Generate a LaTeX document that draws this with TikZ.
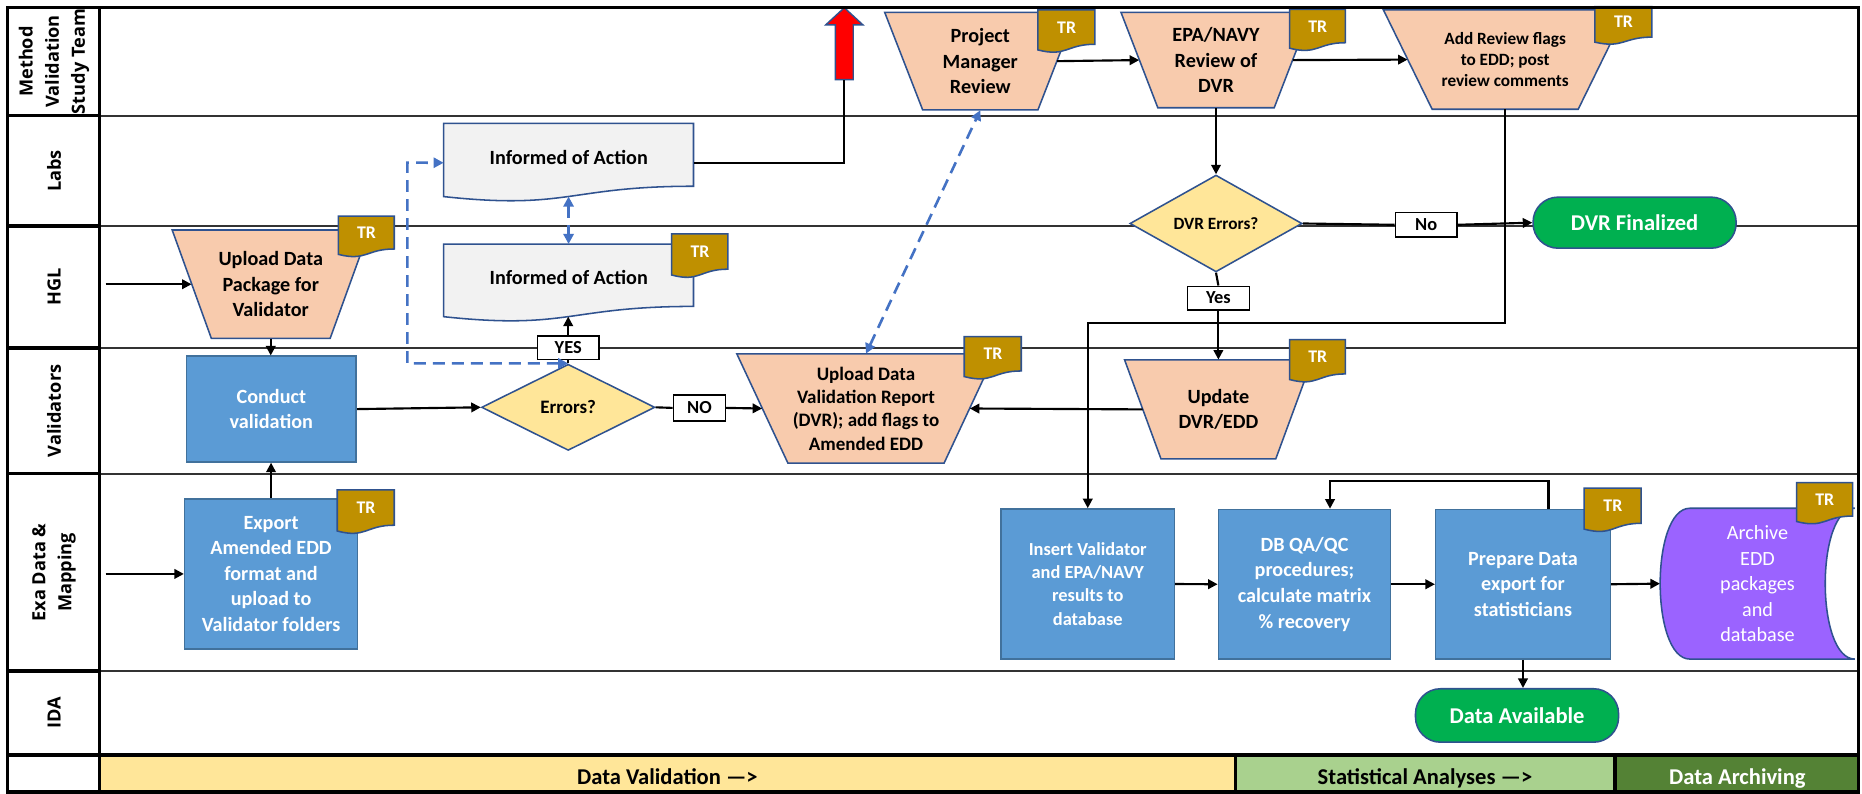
\documentclass[tikz,border=0pt]{standalone}
\usepackage{fontspec}
\setmainfont{Carlito}
\newfontfamily\lanefont{Open Sans}
\usetikzlibrary{arrows.meta,shapes.geometric}
\definecolor{peach}{HTML}{F8CBAD}
\definecolor{boxblue}{HTML}{5B9BD5}
\definecolor{boxline}{HTML}{41719C}
\definecolor{shapeline}{HTML}{2F528F}
\definecolor{diayellow}{HTML}{FFE699}
\definecolor{docgray}{HTML}{F2F2F2}
\definecolor{tagGold}{HTML}{BF9000}
\definecolor{termgreen}{HTML}{00B050}
\definecolor{purp}{HTML}{9B63FF}
\definecolor{bandY}{HTML}{FFE699}
\definecolor{bandLG}{HTML}{A9D18E}
\definecolor{bandDG}{HTML}{548235}
\definecolor{dashblue}{HTML}{4472C4}
\definecolor{arrred}{HTML}{FF0000}

% trapezoid: name, cx, cy, H, top half width, bottom half width, fill, node options, text
\newcommand\mktrap[9]{%
  \path[shapeborder, fill=#7] ({#2-#5},{#3-#4/2}) -- ({#2+#5},{#3-#4/2}) -- ({#2+#6},{#3+#4/2}) -- ({#2-#6},{#3+#4/2}) -- cycle;
  \node[name=#1, minimum width={#5+#6}, minimum height={#4}, inner sep=0pt, align=center, #8] at (#2,#3) {#9};}
% document shape: name, x1, y1, x2, H, fill, node options, text
\newcommand\mkdoc[8]{%
  \path[shapeborder, fill=#6] (#2,#3) -- (#4,#3) -- (#4,{#3+0.802*#5}) .. controls ({(#2+#4)/2},{#3+0.802*#5}) and ({(#2+#4)/2},{#3+1.107*#5}) .. (#2,{#3+0.934*#5}) -- cycle;
  \node[name=#1, minimum width={#4-#2}, minimum height={#5}, inner sep=0pt, anchor=north west, #7] at (#2,#3) {#8};}

\tikzset{
  shapeborder/.style={draw=shapeline, line width=1.3pt, line join=miter},
  conn/.style={draw=black, line width=1.8pt, -{Triangle[length=8pt,width=8pt]}},
  plain/.style={draw=black, line width=1.8pt},
  dasharr/.style={draw=dashblue, line width=2.2pt, dash pattern=on 10pt off 6pt, {Triangle[length=8.5pt,width=8.5pt]}-{Triangle[length=8.5pt,width=8.5pt]}},
  bluebox/.style={rectangle, fill=boxblue, draw=boxline, line width=1.3pt, text=white, align=center, inner sep=0pt, font=\bfseries\fontsize{17}{21.5}\selectfont},
  dia/.style={diamond, fill=diayellow, draw=shapeline, line width=1.3pt, inner sep=0pt, font=\bfseries\fontsize{16}{19}\selectfont},
  term/.style={rectangle, rounded corners=21pt, fill=termgreen, draw=shapeline, line width=1.3pt, text=white, inner sep=0pt, font=\bfseries\fontsize{19}{23}\selectfont},
  lab/.style={rectangle, fill=white, draw=black, line width=1.1pt, inner sep=0pt, font=\bfseries\fontsize{15.5}{18}\selectfont},
  lanelab/.style={rotate=90, align=center, inner sep=0pt, font=\lanefont\bfseries\fontsize{15.3}{22}\selectfont},
  bandtxt/.style={anchor=base, inner sep=0pt, font=\bfseries\fontsize{19}{23}\selectfont},
  frame/.style={draw=black, line width=2.8pt},
  laneline/.style={draw=black!80, line width=1.6pt},
  trtxt/.style={text=white, font=\bfseries\fontsize{15}{18}\selectfont},
  trapfont/.style={font=\bfseries\fontsize{17}{21.3}\selectfont},
}

\begin{document}
\begin{tikzpicture}[x=1pt,y=-1pt]
\useasboundingbox (0,0) rectangle (1568,668.6);
\fill[white] (0,0) rectangle (1568,668.6);

% ---------- bottom band ----------
\fill[bandY] (84,635.8) rectangle (1040.4,667);
\fill[bandLG] (1040.4,635.8) rectangle (1360,667);
\fill[bandDG] (1360,635.8) rectangle (1565,667);
\node[bandtxt] (bt1) at (562,661) {Data Validation —>};
\node[bandtxt] (bt2) at (1200,661) {Statistical Analyses —>};
\node[bandtxt, text=white] (bt3) at (1463,661) {Data Archiving};

% ---------- lanes ----------
\foreach \yy in {97.4,190.3,293,398.9,565} {
  \draw[laneline] (84,\yy) -- (1565,\yy);
  \draw[frame] (6.2,\yy) -- (84,\yy);
}
\draw[frame] (6.2,635.8) -- (1565,635.8);
\draw[frame] (84,6.2) -- (84,667);
\draw[frame] (1040.4,635.8) -- (1040.4,667);
\draw[frame] (1360,635.8) -- (1360,667);

\node[lanelab] (l1) at (45.5,51.8) {Method\\Validation\\Study Team};
\node[lanelab] (l2) at (45.5,143.9) {Labs};
\node[lanelab] (l3) at (45.5,241.6) {HGL};
\node[lanelab] (l4) at (45.5,346) {Validators};
\node[lanelab] (l5) at (45.5,482) {Exa Data \&\\Mapping};
\node[lanelab] (l6) at (45.5,600.4) {IDA};

% ---------- trapezoids ----------
\mktrap{uppkg}{228}{239.35}{91.3}{83}{50}{peach}{trapfont}{Upload Data\\Package for\\Validator}
\mktrap{pm}{825.5}{51.5}{82.2}{80.5}{48.5}{peach}{trapfont}{Project\\Manager\\Review}
\mktrap{epa}{1024}{50.6}{80.3}{80}{49}{peach}{trapfont}{EPA/NAVY\\Review of\\DVR}
\mktrap{addrev}{1267.5}{50.2}{83.6}{102.5}{61.5}{peach}{font=\bfseries\fontsize{14.5}{17.5}\selectfont}{Add Review flags\\to EDD; post\\review comments}
\mktrap{updvr}{729.25}{344}{92}{108.75}{65.75}{peach}{font=\bfseries\fontsize{16}{19.6}\selectfont}{Upload Data\\Validation Report\\(DVR); add flags to\\Amended EDD}
\mktrap{update}{1026}{344.75}{83.5}{79}{48.3}{peach}{trapfont}{Update\\DVR/EDD}

% ---------- documents ----------
\mkdoc{inf1}{373.6}{103.9}{584}{66}{docgray}{font=\bfseries\fontsize{17}{21}\selectfont}{\raisebox{4.5pt}[\height][\depth]{Informed of Action}}
\mkdoc{inf2}{373.6}{205.5}{584}{65.5}{docgray}{font=\bfseries\fontsize{17}{21}\selectfont}{\raisebox{4.5pt}[\height][\depth]{Informed of Action}}

% ---------- blue process boxes ----------
\node[bluebox, minimum width=143, minimum height=89] (conduct) at (228.5,344.5) {Conduct\\validation};
\node[bluebox, minimum width=145.5, minimum height=126.6] (export) at (228.25,483.3) {Export\\Amended EDD\\format and\\upload to\\Validator folders};
\node[bluebox, minimum width=146, minimum height=126.4, font=\bfseries\fontsize{15.5}{19.5}\selectfont] (insert) at (916,491.8) {Insert Validator\\and EPA/NAVY\\results to\\database};
\node[bluebox, minimum width=145, minimum height=126] (dbqa) at (1098.5,492) {DB QA/QC\\procedures;\\calculate matrix\\\% recovery};
\node[bluebox, minimum width=147, minimum height=126] (prepare) at (1282.5,492) {Prepare Data\\export for\\statisticians};

% ---------- archive (stored data) ----------
\path[shapeborder, fill=purp] (1423,428) -- (1562,428) .. controls (1528.7,428) and (1528.7,555) .. (1562,555) -- (1423,555) .. controls (1389.7,555) and (1389.7,428) .. (1423,428) -- cycle;
\node[minimum width=164, minimum height=127, inner sep=0pt, text=white, align=center, font=\fontsize{17}{21.4}\selectfont] (archive) at (1480,491.5) {Archive\\EDD\\packages\\and\\database};

% ---------- decisions ----------
\node[dia, minimum width=146, minimum height=72.6] (errors) at (478.5,343) {Errors?};
\node[dia, minimum width=145, minimum height=71.6, font=\bfseries\fontsize{14.5}{17}\selectfont] (dvrerr) at (1024,188.2) {DVR Errors?};

% ---------- terminals ----------
\node[term, minimum width=171, minimum height=43] (dvrfin) at (1376.5,187.5) {DVR Finalized};
\node[term, minimum width=171, minimum height=45] (dataav) at (1277.5,602.5) {Data Available};

% ---------- red block arrow ----------
\draw[fill=arrred, draw=shapeline, line width=1.2pt] (703.5,67) -- (703.5,21) -- (695.3,21) -- (711,6.5) -- (726.7,21) -- (718.5,21) -- (718.5,67) -- cycle;
\coordinate (redbase) at (711,67);

% ---------- TR tags ----------
\mkdoc{tr1}{285}{182}{332}{34.5}{tagGold}{trtxt}{\raisebox{3.5pt}[\height][\depth]{TR}}
\mkdoc{tr2}{565.5}{197}{613}{37}{tagGold}{trtxt}{\raisebox{3.5pt}[\height][\depth]{TR}}
\mkdoc{tr3}{874}{8.4}{922}{36}{tagGold}{trtxt}{\raisebox{3.5pt}[\height][\depth]{TR}}
\mkdoc{tr4}{1086}{7.9}{1133}{35}{tagGold}{trtxt}{\raisebox{3.5pt}[\height][\depth]{TR}}
\mkdoc{tr5}{1343}{5.6}{1391}{32}{tagGold}{trtxt}{\raisebox{3.5pt}[\height][\depth]{TR}}
\mkdoc{tr6}{812}{283.5}{860}{36}{tagGold}{trtxt}{\raisebox{3.5pt}[\height][\depth]{TR}}
\mkdoc{tr7}{1086}{286}{1133}{36}{tagGold}{trtxt}{\raisebox{3.5pt}[\height][\depth]{TR}}
\mkdoc{tr8}{284}{412.6}{332}{37}{tagGold}{trtxt}{\raisebox{3.5pt}[\height][\depth]{TR}}
\mkdoc{tr9}{1334}{411}{1382}{37}{tagGold}{trtxt}{\raisebox{3.5pt}[\height][\depth]{TR}}
\mkdoc{tr10}{1513}{406.5}{1560}{35}{tagGold}{trtxt}{\raisebox{3.5pt}[\height][\depth]{TR}}

% ---------- label boxes ----------
\node[lab, minimum width=52, minimum height=19.5] (yes1) at (478.5,292.75) {YES};
\node[lab, minimum width=44, minimum height=22] (no1) at (589,343.5) {NO};
\node[lab, minimum width=52.5, minimum height=20] (yes2) at (1026,251) {Yes};
\node[lab, minimum width=52, minimum height=20.5] (no2) at (1201,189.3) {No};

% ---------- coordinates ----------
\coordinate (in1) at (89,239.35);
\coordinate (in2) at (89,483.3);
\coordinate (dc) at (343,136.9);
\coordinate (inf1b) at (478.8,165.5);
\coordinate (inf2b) at (478.5,266.6);
\coordinate (j1) at (916,272);

% ---------- connectors ----------
\draw[conn] (in1) -- (uppkg.west);
\draw[conn] (uppkg.south) -- (uppkg.south |- conduct.north);
\draw[conn] (export.north) -- (export.north |- conduct.south);
\draw[conn] (in2) -- (export.west);
\draw[conn] (conduct.east) -- (errors.west);
\draw[plain] (errors.north) -- (yes1.south);
\draw[conn] (yes1.north) -- (inf2b);
\draw[dasharr] (errors.north) -| (dc) -- (inf1.west);
\draw[dasharr] (inf1b) -- (inf1b |- inf2.north);
\draw[plain] (inf1.east) -| (redbase);
\draw[dasharr] (updvr.north) -- (pm.south);
\draw[conn] (pm.east) -- (epa.west);
\draw[conn] (epa.east) -- (addrev.west);
\draw[conn] (epa.south) -- (dvrerr.north);
\draw[plain] (dvrerr.east) -- (no2.west);
\draw[conn] (no2.east) -- (dvrfin.west);
\draw[plain] (dvrerr.south) -- (yes2.north);
\draw[conn] (yes2.south) -- (update.north);
\draw[conn] (addrev.south) |- (j1) -- (insert.north);
\draw[conn] (update.west) -- (updvr.east);
\draw[plain] (errors.east) -- (no1.west);
\draw[conn] (no1.east) -- (updvr.west);
\draw[conn] (insert.east) -- (dbqa.west);
\draw[conn] (dbqa.east) -- (prepare.west);
\draw[conn] (prepare.east) -- (archive.west);
\draw[conn] ([xshift=21.5pt]prepare.north) -- ++(0,-23) -| ([xshift=21.5pt]dbqa.north);
\draw[conn] (prepare.south) -- (prepare.south |- dataav.north);

% ---------- outer frame ----------
\draw[frame] (6.2,6.2) rectangle (1565,667);
\end{tikzpicture}
\end{document}
